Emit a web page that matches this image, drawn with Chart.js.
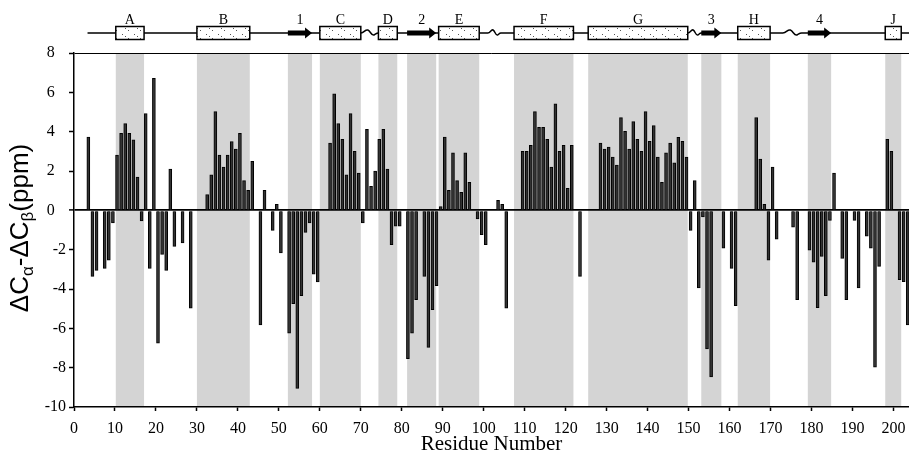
<!DOCTYPE html>
<html lang="en">
<head>
<meta charset="UTF-8">
<title>Chemical shift index</title>
<script src="https://cdn.jsdelivr.net/npm/chart.js"></script>
<style>
  html, body { margin: 0; padding: 0; background: #fff; }
  #wrap { width: 909px; height: 461px; }
</style>
</head>
<body>
<div id="wrap"><canvas id="chart"></canvas></div>
<script>
// residue numbers and dCa-dCb values (ppm)
var residues = [4, 5, 6, 8, 9, 10, 11, 12, 13, 14, 15, 16, 17, 18, 19, 20, 21, 22, 23, 24, 25, 27, 29,
  33, 34, 35, 36, 37, 38, 39, 40, 41, 42, 43, 44, 46, 47, 49, 50, 51, 53, 54, 55, 56, 57, 58, 59, 60,
  63, 64, 65, 66, 67, 68, 69, 70, 71, 72, 73, 74, 75, 76, 77, 78, 79, 80, 82, 83, 84, 86, 87, 88, 89,
  90, 91, 92, 93, 94, 95, 96, 97, 99, 100, 101, 104, 105, 106, 110, 111, 112, 113, 114, 115, 116, 117,
  118, 119, 120, 121, 122, 124, 129, 130, 131, 132, 133, 134, 135, 136, 137, 138, 139, 140, 141, 142,
  143, 144, 145, 146, 147, 148, 149, 150, 151, 152, 153, 154, 155, 156, 159, 161, 162, 167, 168, 169,
  170, 171, 172, 176, 177, 180, 181, 182, 183, 184, 185, 186, 188, 189, 191, 192, 194, 195, 196, 197,
  199, 200, 202, 203, 204];
var shifts = [3.73, -3.36, -3.05, -2.95, -2.54, -0.64, 2.81, 3.92, 4.41, 3.92, 3.59, 1.69, -0.54, 4.92, -2.95, 6.71, -6.75, -2.24, -3.05, 2.1, -1.83, -1.66, -4.97,
  0.8, 1.81, 5.02, 2.81, 2.2, 2.81, 3.5, 3.12, 3.92, 1.51, 1.02, 2.49, -5.83, 1.02, -1.02, 0.3, -2.17, -6.24, -4.75, -9.05, -4.34, -1.12, -0.64, -3.25, -3.64,
  3.42, 5.92, 4.41, 3.61, 1.81, 4.92, 3.0, 1.9, -0.64, 4.12, 1.22, 2.0, 3.61, 4.12, 2.1, -1.75, -0.81, -0.81, -7.54, -6.24, -4.54, -3.36, -6.97, -5.05, -3.83,
  0.19, 3.73, 1.02, 2.92, 1.51, 0.92, 2.92, 1.42, -0.44, -1.24, -1.75, 0.51, 0.3, -4.97, 3.0, 3.0, 3.31, 5.02, 4.22, 4.22, 3.61, 2.2,
  5.41, 3.0, 3.31, 1.12, 3.31, -3.36, 3.42, 3.12, 3.22, 2.71, 2.3, 4.71, 4.02, 3.12, 4.51, 3.61, 3.0, 5.02, 3.51, 4.31,
  2.71, 1.42, 2.92, 3.42, 2.41, 3.71, 3.51, 2.71, -1.02, 1.51, -3.95, -0.34, -7.05, -8.47, -1.93, -2.95, -4.85, 4.71, 2.61, 0.3,
  -2.54, 2.2, -1.46, -0.85, -4.54, -2.03, -2.64, -4.95, -2.34, -4.34, -0.51, 1.9, -2.44, -4.54, -0.51, -3.95, -1.32, -1.93, -7.97, -2.85,
  3.61, 3.0, -3.53, -3.63, -5.83];

// secondary structure (residue ranges)
var helixLabels = ['A', 'B', 'C', 'D', 'E', 'F', 'G', 'H', 'J'];
var helixStart = [10.2, 30, 60, 74.3, 89, 107.4, 125.5, 162, 198];
var helixEnd = [17.1, 42.9, 70, 78.9, 98.9, 121.9, 149.8, 169.9, 201.9];
var strandLabels = ['1', '2', '3', '4'];
var strandStart = [52.2, 81.3, 153.1, 179.1];
var strandEnd = [58.1, 88.4, 158, 184.8];
var loopStart = [70, 101, 149.8, 173];
var loopEnd = [74.3, 104.2, 153.1, 177.6];

var yTicks = [-10, -8, -6, -4, -2, 0, 2, 4, 6, 8];

var points = residues.map(function (r, i) { return { x: r - 0.5, y: shifts[i] }; });

// stippled fill for the helix boxes
function makeStipple(ctx) {
  var c = document.createElement('canvas');
  c.width = 12; c.height = 8;
  var p = c.getContext('2d');
  p.fillStyle = '#fff';
  p.fillRect(0, 0, 12, 8);
  p.fillStyle = '#555';
  p.fillRect(2, 2, 1, 1);
  p.fillRect(5, 4, 1, 1);
  p.fillRect(8, 6, 1, 1);
  return ctx.createPattern(c, 'repeat');
}

var schematic = {
  id: 'schematic',
  beforeDraw: function (chart) {
    var ctx = chart.ctx, a = chart.chartArea, x = chart.scales.x;
    ctx.save();
    ctx.fillStyle = '#d4d4d4';
    var starts = helixStart.concat(strandStart), ends = helixEnd.concat(strandEnd);
    starts.forEach(function (s, i) {
      var x0 = x.getPixelForValue(s), x1 = x.getPixelForValue(ends[i]);
      ctx.fillRect(x0, a.top, x1 - x0, a.bottom - a.top);
    });
    ctx.restore();
  },
  afterDraw: function (chart) {
    var ctx = chart.ctx, x = chart.scales.x;
    var ly = 33;
    ctx.save();
    // backbone line, with small waves for the loops
    ctx.strokeStyle = '#000';
    ctx.lineWidth = 1.5;
    ctx.beginPath();
    ctx.moveTo(x.getPixelForValue(3.3), ly);
    loopStart.forEach(function (s, i) {
      var x0 = x.getPixelForValue(s), x1 = x.getPixelForValue(loopEnd[i]);
      var w = x1 - x0;
      ctx.lineTo(x0, ly);
      ctx.bezierCurveTo(x0 + w * 0.2, ly, x0 + w * 0.25, ly - 4, x0 + w * 0.4, ly - 3);
      ctx.bezierCurveTo(x0 + w * 0.55, ly - 2, x0 + w * 0.6, ly + 3, x0 + w * 0.75, ly + 2);
      ctx.bezierCurveTo(x0 + w * 0.85, ly + 1, x0 + w * 0.9, ly, x1, ly);
    });
    ctx.lineTo(909, ly);
    ctx.stroke();

    ctx.font = '14px "Liberation Serif", serif';
    ctx.textAlign = 'center';
    ctx.textBaseline = 'middle';
    var stipple = makeStipple(ctx);
    helixStart.forEach(function (s, i) {
      var x0 = x.getPixelForValue(s), x1 = x.getPixelForValue(helixEnd[i]);
      ctx.fillStyle = stipple;
      ctx.fillRect(x0, ly - 6.5, x1 - x0, 13);
      ctx.lineWidth = 1.5;
      ctx.strokeRect(x0, ly - 6.5, x1 - x0, 13);
      ctx.fillStyle = '#000';
      ctx.fillText(helixLabels[i], (x0 + x1) / 2, 20);
    });
    strandStart.forEach(function (s, i) {
      var x0 = x.getPixelForValue(s), x1 = x.getPixelForValue(strandEnd[i]);
      var hx = x1 - 7;
      ctx.fillStyle = '#000';
      ctx.beginPath();
      ctx.moveTo(x0, ly - 2.5);
      ctx.lineTo(hx, ly - 2.5);
      ctx.lineTo(hx, ly - 5.5);
      ctx.lineTo(x1, ly);
      ctx.lineTo(hx, ly + 5.5);
      ctx.lineTo(hx, ly + 2.5);
      ctx.lineTo(x0, ly + 2.5);
      ctx.closePath();
      ctx.fill();
      ctx.fillText(strandLabels[i], (x0 + x1) / 2, 20);
    });

    // y axis title with subscripts
    var big = '26px "Liberation Sans", Arial, sans-serif';
    var small = '17px "Liberation Sans", Arial, sans-serif';
    var parts = [['\u0394C', big, 0], ['\u03b1', small, 7], ['-\u0394C', big, 0], ['\u03b2', small, 7], ['(ppm)', big, 0]];
    var total = 0;
    parts.forEach(function (p) { ctx.font = p[1]; total += ctx.measureText(p[0]).width; });
    ctx.translate(21, 228);
    ctx.rotate(-Math.PI / 2);
    ctx.textAlign = 'left';
    ctx.textBaseline = 'middle';
    var cx = -total / 2;
    parts.forEach(function (p) {
      ctx.font = p[1];
      ctx.fillText(p[0], cx, p[2]);
      cx += ctx.measureText(p[0]).width;
    });
    ctx.restore();
  }
};

var ctx = document.getElementById('chart').getContext('2d');
new Chart(ctx, {
  type: 'bar',
  data: {
    datasets: [{
      data: points,
      backgroundColor: '#333',
      borderColor: '#000',
      borderWidth: 1,
      barThickness: 3
    }]
  },
  options: {
    responsive: true,
    maintainAspectRatio: false,
    animation: false,
    layout: { padding: { top: 53, right: 0, left: 0, bottom: 0 } },
    plugins: { legend: { display: false }, tooltip: { enabled: false } },
    scales: {
      x: {
        type: 'linear',
        offset: false,
        min: 0,
        max: 203.8,
        afterFit: function (s) { s.height = 54; s.paddingLeft = 0; s.paddingRight = 0; },
        grid: { display: true, drawOnChartArea: false, offset: false, tickLength: 4, tickColor: '#000', tickWidth: 1.5 },
        border: { color: '#000', width: 1.5 },
        ticks: {
          stepSize: 10, includeBounds: false, maxRotation: 0, autoSkip: false, padding: 8,
          color: '#000', font: { family: '"Liberation Serif", serif', size: 16 }
        },
        title: {
          display: true, text: 'Residue Number', color: '#000',
          font: { family: '"Liberation Serif", serif', size: 21 }, padding: { top: 0, bottom: 4 }
        }
      },
      y: {
        min: -10,
        max: 8,
        afterFit: function (s) { s.width = 74; s.paddingTop = 0; s.paddingBottom = 0; },
        afterBuildTicks: function (s) { s.ticks = yTicks.map(function (v) { return { value: v }; }); },
        grid: {
          drawOnChartArea: true, tickLength: 5, tickColor: '#000', tickWidth: 1.5,
          color: function (c) { return c.tick && (c.tick.value === 0 || c.tick.value === 8) ? '#000' : 'rgba(0,0,0,0)'; },
          lineWidth: function (c) { return c.tick && c.tick.value === 0 ? 1.8 : 1; }
        },
        border: { color: '#000', width: 1.5 },
        ticks: {
          padding: 3, color: '#000', font: { family: '"Liberation Serif", serif', size: 16 },
          callback: function (v) { return v >= 0 ? v + '\u2002\u2009' : String(v); }
        }
      }
    }
  },
  plugins: [schematic]
});
</script>
</body>
</html>
